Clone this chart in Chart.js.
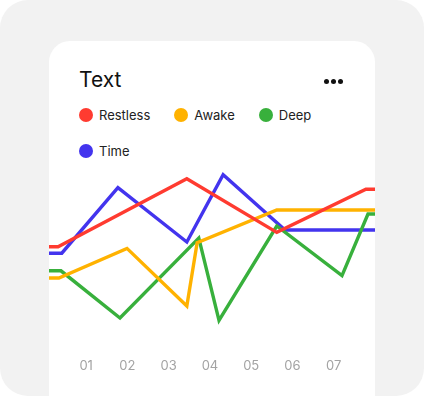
<!DOCTYPE html>
<html>
<head>
<meta charset="utf-8">
<script src="https://cdn.jsdelivr.net/npm/chart.js@4.4.0/dist/chart.umd.min.js"></script>
<style>
  html, body { margin: 0; padding: 0; background: #fff; }
  body { width: 424px; height: 396px; position: relative; overflow: hidden; font-family: Inter, "Noto Sans", sans-serif; }
  .bg { position: absolute; left: 0; top: 0; width: 424px; height: 396px; background: #f2f2f2; border-radius: 28px; }
  .card { position: absolute; left: 49px; top: 41px; width: 326px; height: 400px; background: #fff; border-radius: 21px; overflow: hidden; }
  .title { position: absolute; left: 30px; top: 26px; font-size: 21px; color: #111; }
  .more { position: absolute; left: 275px; top: 38px; }
  .more b { float: left; width: 5px; height: 5px; border-radius: 50%; background: #111; margin-right: 2px; }
  .legend { position: absolute; left: 30px; top: 64px; width: 270px; }
  .legend span { display: inline-flex; align-items: center; height: 20px; margin: 0 24px 16px 0; font-size: 13px; color: #222; }
  .legend i { width: 14px; height: 14px; border-radius: 50%; margin-right: 6px; display: inline-block; }
  .wrap { position: absolute; left: 0; top: 119px; width: 326px; height: 236px; }
</style>
</head>
<body>
<div class="bg"></div>
<div class="card">
  <div class="title">Text</div>
  <div class="more"><b></b><b></b><b></b></div>
  <div class="legend" id="legend"></div>
  <div class="wrap"><canvas id="myLineChart"></canvas></div>
</div>
<script>
const dayLabels = ['01', '02', '03', '04', '05', '06', '07'];
const seriesNames = ['Restless', 'Awake', 'Deep', 'Time'];
const seriesColors = ['#ff3b30', '#ffb200', '#38b03c', '#4334ee'];

// x = day position, y = score (0-100)
const restless = [[-0.5, 52], [0.32, 52], [3.44, 94.5], [5.62, 61], [7.78, 88], [8.5, 88]];
const awake = [[-0.5, 32.5], [0.34, 32.5], [1.99, 51], [3.44, 15], [3.69, 54.5], [5.62, 75], [8.5, 75]];
const deep = [[-0.5, 37], [0.39, 37], [1.82, 7.5], [3.73, 57.5], [4.22, 6], [5.62, 65], [7.2, 34], [7.83, 72.5], [8.5, 72.5]];
const time = [[-0.5, 48], [0.41, 48], [1.77, 89], [3.44, 55], [4.32, 97], [5.82, 62.5], [8.5, 62.5]];

const allSeries = [restless, awake, deep, time];

var legend = document.getElementById('legend');
seriesNames.forEach(function (name, i) {
  legend.innerHTML += '<span><i style="background:' + seriesColors[i] + '"></i>' + name + '</span>';
});

var ctx = document.getElementById('myLineChart');
var myLineChart = new Chart(ctx, {
  type: 'line',
  data: {
    datasets: allSeries.map(function (pts, i) {
      return {
        label: seriesNames[i],
        data: pts.map(function (p) { return { x: p[0], y: p[1] }; }),
        borderColor: seriesColors[i],
        borderWidth: 3.4,
        pointRadius: 0,
        tension: 0,
        fill: false
      };
    })
  },
  options: {
    responsive: true,
    maintainAspectRatio: false,
    animation: false,
    layout: { padding: { top: 10, left: 0, right: 0, bottom: 0 } },
    plugins: { legend: { display: false }, tooltip: { enabled: false } },
    scales: {
      x: {
        type: 'linear',
        min: 0.1,
        max: 8,
        grid: { display: false, drawTicks: false },
        border: { display: false },
        afterBuildTicks: function (axis) {
          axis.ticks = dayLabels.map(function (l, i) { return { value: i + 1 }; });
        },
        afterFit: function (axis) { axis.height = 66; },
        ticks: {
          padding: 28,
          color: '#a3a3a3',
          font: { family: 'Inter', size: 13 },
          maxRotation: 0,
          callback: function (v) { return dayLabels[v - 1]; }
        }
      },
      y: {
        display: false,
        min: 0,
        max: 100
      }
    }
  }
});
</script>
</body>
</html>
